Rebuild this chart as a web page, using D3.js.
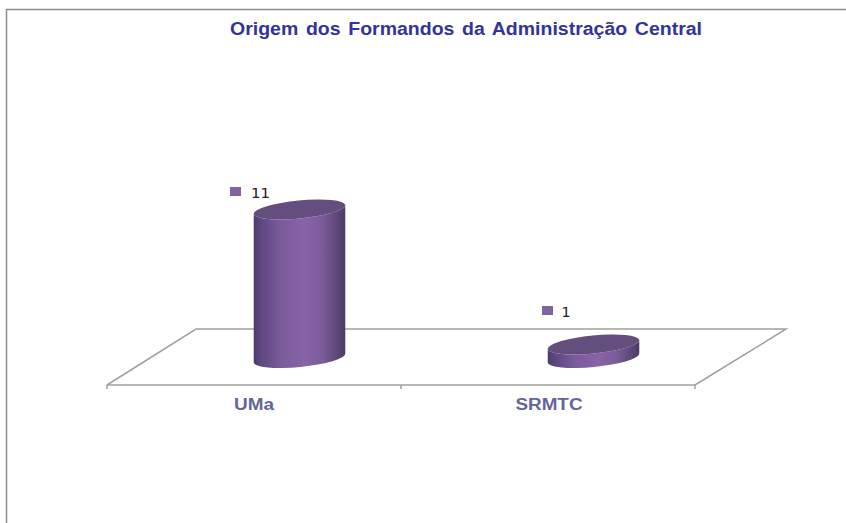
<!DOCTYPE html>
<html><head><meta charset="utf-8">
<script src="https://cdn.jsdelivr.net/npm/d3@7"></script>
<style>html,body{margin:0;padding:0;background:#fff}svg{display:block}</style>
</head><body><div id="chart"></div>
<script>
const categories = ["UMa", "SRMTC"];
const values = [11, 1];
const valueLabels = ["11", "1"];
const chartTitle = "Origem dos Formandos da Administração Central";

const W = 846, H = 523;
const svg = d3.select("#chart").append("svg").attr("width", W).attr("height", H);
const defs = svg.append("defs");
const grad = defs.append("linearGradient").attr("id", "cyl");
[[0, "#4e3a6a"], [0.08, "#5f4780"], [0.3, "#7a5b9b"], [0.55, "#8863a8"], [0.75, "#7b5c9a"], [0.92, "#5c4675"], [1, "#4d3b63"]]
  .forEach(([o, c]) => grad.append("stop").attr("offset", o).attr("stop-color", c));

// frame
svg.append("path").attr("d", `M6.5,${H}V9.5H${W}`).attr("fill", "none").attr("stroke", "#8c8c8c").attr("stroke-width", 1.5);

// title
svg.append("text").attr("x", 466).attr("y", 35).attr("text-anchor", "middle")
  .attr("font-family", "'Liberation Sans',Arial,sans-serif").attr("font-weight", "bold").attr("font-size", 17.5)
  .attr("word-spacing", 2).attr("textLength", 472).attr("lengthAdjust", "spacingAndGlyphs")
  .attr("fill", "#333399").text(chartTitle);

// scales
const x = d3.scaleBand().domain(categories).range([107, 695]);
const y = d3.scaleLinear().domain([0, 11]).range([358, 209.5]);
const depthX = 45.5;

// floor
const floorColor = "#a0a0a0";
svg.append("path").attr("d", "M107,385L196,329H786L695,385")
  .attr("fill", "none").attr("stroke", floorColor).attr("stroke-width", 1.5);
const axisG = svg.append("g").attr("transform", "translate(0,385)");
axisG.call(d3.axisBottom(x).tickSize(0).tickPadding(11));
axisG.select(".domain").attr("d", "M107,0H695").attr("stroke", floorColor).attr("stroke-width", 1.5);
axisG.selectAll(".tick text")
  .attr("font-family", "'Liberation Sans',Arial,sans-serif").attr("font-weight", "bold").attr("font-size", 16)
  .attr("fill", "#65659b").attr("dy", "0.85em").attr("dx", d => d === "UMa" ? 0 : 1)
  .attr("textLength", d => d === "UMa" ? 40 : 67).attr("lengthAdjust", "spacingAndGlyphs");
axisG.selectAll("line.sep").data([107, 401, 695]).join("line").attr("class", "sep")
  .attr("x1", d => d).attr("x2", d => d).attr("y1", 0).attr("y2", 4).attr("stroke", floorColor).attr("stroke-width", 1.5);

// cylinders
const rx = 46, ry = 9, rot = -5.6;
const dx = rx * Math.cos(rot * Math.PI / 180), dy = rx * Math.sin(rot * Math.PI / 180);
const cx = d => x(d) + x.bandwidth() / 2 + depthX;
const g = svg.selectAll("g.cyl").data(categories.map((c, i) => ({ c, v: values[i], l: valueLabels[i] }))).join("g").attr("class", "cyl");
g.append("path").attr("fill", "url(#cyl)").attr("d", d => {
  const X = cx(d.c), t = y(d.v), b = y(0);
  return `M${X - dx},${t - dy}L${X - dx},${b - dy}A${rx},${ry} ${rot} 0 0 ${X + dx},${b + dy}L${X + dx},${t + dy}A${rx},${ry} ${rot} 0 1 ${X - dx},${t - dy}Z`;
});
g.append("ellipse").attr("cx", d => cx(d.c)).attr("cy", d => y(d.v)).attr("rx", rx).attr("ry", ry)
  .attr("transform", d => `rotate(${rot} ${cx(d.c)} ${y(d.v)})`).attr("fill", "#644e7e");

// data labels (the two labels sit at different offsets from their cylinder tops)
const tall = d => d.v >= 10;
g.append("rect").attr("x", d => cx(d.c) + (tall(d) ? -69.5 : -51.5)).attr("y", d => y(d.v) + (tall(d) ? -22.5 : -38.5))
  .attr("width", 11).attr("height", 9).attr("fill", "#8064a2");
g.append("text").attr("x", d => cx(d.c) + (tall(d) ? -48.5 : -32)).attr("y", d => y(d.v) + (tall(d) ? -12 : -28))
  .attr("font-family", "'DejaVu Sans',sans-serif").attr("font-size", 13.5).attr("fill", "#222")
  .attr("textLength", d => tall(d) ? 19 : 9).attr("lengthAdjust", "spacingAndGlyphs").text(d => d.l);
</script></body></html>
